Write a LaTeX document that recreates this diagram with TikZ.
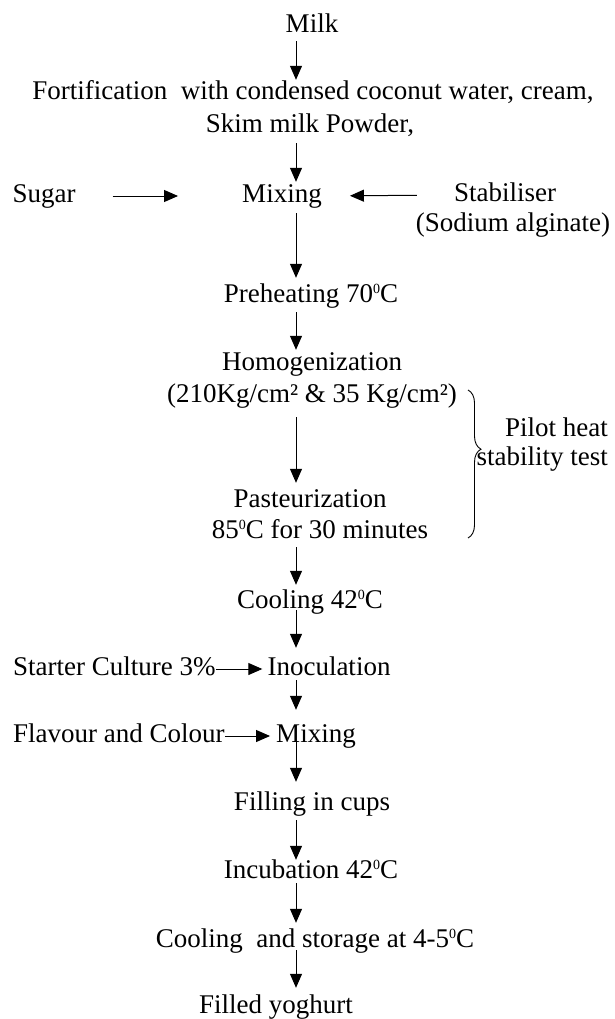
\documentclass[tikz,border=0pt]{standalone}
\usepackage{fontspec}
\setmainfont{Liberation Serif}
\usetikzlibrary{arrows.meta,decorations.pathreplacing}

\newcommand{\supz}{\raisebox{8.5pt}{\fontsize{14}{14}\selectfont 0}}

\tikzset{
  lbl/.style={inner sep=0pt, text height=18pt, text depth=6pt, anchor=base, font=\fontsize{27}{33}\selectfont},
  flow/.style={-{Triangle[length=14pt,width=12pt]}, line width=1pt, shorten <=2pt, shorten >=2pt}
}

\begin{document}
\begin{tikzpicture}[x=1pt,y=-1pt]
	\useasboundingbox (0,0) rectangle (615,1019);
	\coordinate (spine) at (296,0);
	\node[lbl] (milk) at (312,33) {Milk};
	\node[lbl] (fort) at (313,100) {Fortification\ \ with condensed coconut water, cream,};
	\node[lbl] (skim) at (310,133) {Skim milk Powder,};
	\node[lbl] (sugar) at (44,202) {Sugar};
	\node[lbl] (mix) at (282,202) {Mixing};
	\node[lbl] (stab) at (505,201) {Stabiliser};
	\node[lbl] (alg) at (513,231) {(Sodium alginate)};
	\node[lbl] (preheat) at (311,302) {Preheating 70\supz C};
	\node[lbl] (homog) at (312,370) {Homogenization};
	\node[lbl] (press) at (312,402) {(210Kg/cm² \& 35 Kg/cm²)};
	\node[lbl] (past) at (310,507) {Pasteurization};
	\node[lbl] (pasttime) at (320,538) {85\supz C for 30 minutes};
	\node[lbl, anchor=base east] (pilot) at (608,436) {Pilot heat};
	\node[lbl, anchor=base east] (pilotb) at (608,465) {stability test};
	\node[lbl] (cool) at (310,608) {Cooling 42\supz C};
	\node[lbl, anchor=base west] (starter) at (13,675) {Starter Culture 3\%};
	\node[lbl] (inoc) at (329,675) {Inoculation};
	\node[lbl, anchor=base west] (flavour) at (13,742) {Flavour and Colour};
	\node[lbl] (mixb) at (316,742) {Mixing};
	\node[lbl] (fill) at (312,810) {Filling in cups};
	\node[lbl] (incub) at (311,878) {Incubation 42\supz C};
	\node[lbl] (store) at (315,947) {Cooling\ \ and storage at 4-5\supz C};
	\node[lbl] (yog) at (276,1013) {Filled yoghurt};
	\draw[flow] (milk.south -| spine) -- (fort.north -| spine);
	\draw[flow, shorten <=4pt] (skim.south -| spine) -- (mix.north -| spine);
	\draw[flow, shorten <=5pt, shorten >=6pt] (mix.south -| spine) -- (preheat.north -| spine);
	\draw[flow, shorten <=4pt] (preheat.south -| spine) -- (homog.north -| spine);
	\draw[flow, shorten <=9pt, shorten >=6pt] (press.south -| spine) -- (past.north -| spine);
	\draw[flow, shorten <=3pt, shorten >=5pt] (pasttime.south -| spine) -- (cool.north -| spine);
	\draw[flow, shorten <=-4pt, shorten >=9pt] (cool.south -| spine) -- (inoc.north -| spine);
	\draw[flow, shorten <=-1pt, shorten >=14pt] (inoc.south -| spine) -- (mixb.north -| spine);
	\draw[flow, shorten <=-6pt, shorten >=10pt] (mixb.south -| spine) -- (fill.north -| spine);
	\draw[flow, shorten <=4pt, shorten >=0pt] (fill.south -| spine) -- (incub.north -| spine);
	\draw[flow, shorten <=-1pt, shorten >=6pt] (incub.south -| spine) -- (store.north -| spine);
	\draw[flow, shorten <=-3pt, shorten >=7pt] (store.south -| spine) -- (yog.north -| spine);
	\draw[flow, shorten <=37pt, shorten >=64pt] (sugar.east) -- (mix.west);
	\draw[flow, shorten <=37pt, shorten >=28pt] (stab.west) -- (mix.east);
	\draw[flow, shorten <=0pt, shorten >=5pt] (starter.east) -- (inoc.west);
	\draw[flow, shorten <=0pt, shorten >=6pt] (flavour.east) -- (mixb.west);
	\draw[line width=0.9pt, decorate, decoration={brace, amplitude=13pt, aspect=0.4}] (468,390) -- (468,538);
\end{tikzpicture}
\end{document}
